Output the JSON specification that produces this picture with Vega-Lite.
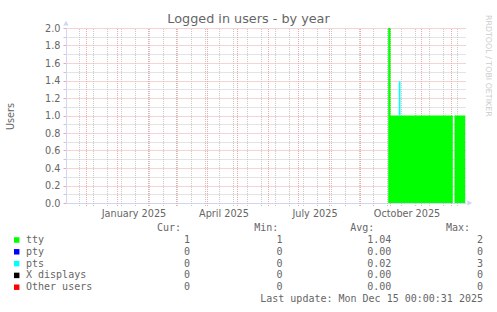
{
  "$schema": "https://vega.github.io/schema/vega-lite/v6.json",
  "width": 400,
  "height": 175,
  "autosize": {"type": "none"},
  "padding": {"left": 66, "top": 28, "right": 31, "bottom": 109},
  "background": "#ffffff",
  "config": {
    "view": {"stroke": null},
    "font": "DejaVu Sans",
    "axis": {"labelFont": "DejaVu Sans", "titleFont": "DejaVu Sans"}
  },
  "title": {
    "text": "Logged in users - by year",
    "font": "DejaVu Sans",
    "fontSize": 12.8,
    "fontWeight": "normal",
    "color": "#666666",
    "anchor": "middle",
    "frame": "group",
    "dx": -17.5,
    "dy": 11.5,
    "offset": 0
  },
  "datasets": {
    "users": [
      {"t": "2025-09-28T17:00:00", "series": "tty", "users": 2},
      {"t": "2025-09-28T17:00:00", "series": "pts", "users": 0},
      {"t": "2025-10-01T00:00:00", "series": "tty", "users": 1},
      {"t": "2025-10-01T00:00:00", "series": "pts", "users": 0},
      {"t": "2025-10-09T07:00:00", "series": "tty", "users": 1},
      {"t": "2025-10-09T07:00:00", "series": "pts", "users": 0.39},
      {"t": "2025-10-11T00:00:00", "series": "tty", "users": 1},
      {"t": "2025-10-11T00:00:00", "series": "pts", "users": 0},
      {"t": "2025-12-02T07:00:00", "series": "tty", "users": 1},
      {"t": "2025-12-02T07:00:00", "series": "pts", "users": 0},
      {"t": "2025-12-03T00:00:00", "series": "tty", "users": null},
      {"t": "2025-12-03T00:00:00", "series": "pts", "users": null},
      {"t": "2025-12-04T00:00:00", "series": "tty", "users": 1},
      {"t": "2025-12-04T00:00:00", "series": "pts", "users": 0},
      {"t": "2025-12-14T17:00:00", "series": "tty", "users": 1},
      {"t": "2025-12-14T17:00:00", "series": "pts", "users": 0}
    ],
    "monthGrid": [
      {"d": "2024-12-01T00:00:00"}, {"d": "2025-01-01T00:00:00"}, {"d": "2025-02-01T00:00:00"},
      {"d": "2025-03-01T00:00:00"}, {"d": "2025-04-01T00:00:00"}, {"d": "2025-05-01T00:00:00"},
      {"d": "2025-06-01T00:00:00"}, {"d": "2025-07-01T00:00:00"}, {"d": "2025-08-01T00:00:00"},
      {"d": "2025-09-01T00:00:00"}, {"d": "2025-10-01T00:00:00"}, {"d": "2025-11-01T00:00:00"},
      {"d": "2025-12-01T00:00:00"}
    ],
    "weekGrid": [
      {"d": "2024-11-24T00:00:00"}, {"d": "2024-12-08T00:00:00"}, {"d": "2024-12-22T00:00:00"},
      {"d": "2025-01-05T00:00:00"}, {"d": "2025-01-19T00:00:00"}, {"d": "2025-02-02T00:00:00"},
      {"d": "2025-02-16T00:00:00"}, {"d": "2025-03-02T00:00:00"}, {"d": "2025-03-16T00:00:00"},
      {"d": "2025-03-30T00:00:00"}, {"d": "2025-04-13T00:00:00"}, {"d": "2025-04-27T00:00:00"},
      {"d": "2025-05-11T00:00:00"}, {"d": "2025-05-25T00:00:00"}, {"d": "2025-06-08T00:00:00"},
      {"d": "2025-06-22T00:00:00"}, {"d": "2025-07-06T00:00:00"}, {"d": "2025-07-20T00:00:00"},
      {"d": "2025-08-03T00:00:00"}, {"d": "2025-08-17T00:00:00"}, {"d": "2025-08-31T00:00:00"},
      {"d": "2025-09-14T00:00:00"}, {"d": "2025-09-28T00:00:00"}, {"d": "2025-10-12T00:00:00"},
      {"d": "2025-10-26T00:00:00"}, {"d": "2025-11-09T00:00:00"}, {"d": "2025-11-23T00:00:00"},
      {"d": "2025-12-07T00:00:00"}
    ],
    "stats": [
      {"series": "tty", "cur": 1, "min": 1, "avg": 1.04, "max": 2},
      {"series": "pty", "cur": 0, "min": 0, "avg": 0, "max": 0},
      {"series": "pts", "cur": 0, "min": 0, "avg": 0.02, "max": 3},
      {"series": "X displays", "cur": 0, "min": 0, "avg": 0, "max": 0},
      {"series": "Other users", "cur": 0, "min": 0, "avg": 0, "max": 0}
    ]
  },
  "layer": [
    {
      "layer": [
        {
          "data": {"name": "weekGrid"},
          "mark": {"type": "rule", "color": "#c8c8c8", "strokeDash": [1, 1], "strokeWidth": 1},
          "encoding": {
            "x": {"field": "d", "type": "temporal"},
            "y": {"datum": -0.034, "type": "quantitative", "axis": null},
            "y2": {"datum": 2}
          }
        },
        {
          "data": {"name": "monthGrid"},
          "mark": {"type": "rule", "color": "#efa7a7", "strokeDash": [1, 1], "strokeWidth": 1},
          "encoding": {
            "x": {"field": "d", "type": "temporal"},
            "y": {"datum": -0.034, "type": "quantitative", "axis": null},
            "y2": {"datum": 2}
          }
        },
        {
          "data": {"name": "users"},
          "mark": {"type": "area", "interpolate": "step-after", "opacity": 1, "line": false},
          "encoding": {
            "x": {
              "field": "t",
              "type": "temporal",
              "scale": {"domain": [{"year": 2024, "month": 11, "date": 10, "hours": 12}, {"year": 2025, "month": 12, "date": 15, "hours": 12}]},
              "axis": {
                "title": null,
                "tickCount": {"interval": "month", "step": 3},
                "format": "%B %Y",
                "grid": false,
                "ticks": false,
                "tickSize": 0,
                "domainColor": "#cfd6f8",
                "labelOffset": 16,
                "labelOverlap": false,
                "labelBound": false,
                "labelFlush": false,
                "labelFontSize": 9.7,
                "labelColor": "#666666",
                "labelPadding": 5
              }
            },
            "y": {
              "field": "users",
              "type": "quantitative",
              "stack": "zero",
              "scale": {"domain": [0, 2], "nice": false, "zero": true},
              "axis": {
                "title": "Users",
                "values": [0, 0.1, 0.2, 0.3, 0.4, 0.5, 0.6, 0.7, 0.8, 0.9, 1, 1.1, 1.2, 1.3, 1.4, 1.5, 1.6, 1.7, 1.8, 1.9, 2],
                "grid": true,
                "gridColor": {"condition": {"test": "round(datum.value * 10) % 2 === 0", "value": "#efa7a7"}, "value": "#c8c8c8"},
                "gridDash": [1, 1],
                "tickColor": {"condition": {"test": "round(datum.value * 10) % 2 === 0", "value": "#efa7a7"}, "value": "#c8c8c8"},
                "tickSize": 3,
                "domainColor": "#cfd6f8",
                "labelExpr": "round(datum.value * 10) % 2 === 0 ? format(datum.value, '.1f') : ''",
                "labelOverlap": false,
                "labelBound": false,
                "labelFlush": false,
                "labelFontSize": 9.7,
                "labelColor": "#666666",
                "labelPadding": 3,
                "titleFontSize": 9.7,
                "titleFontWeight": "normal",
                "titleColor": "#666666",
                "titleAngle": 270,
                "titleAlign": "center",
                "titleBaseline": "middle",
                "titleX": -55.5,
                "titleY": 88
              }
            },
            "color": {
              "field": "series",
              "type": "nominal",
              "scale": {"domain": ["tty", "pty", "pts", "X displays", "Other users"], "range": ["#00ff00", "#0000ff", "#00ffff", "#000000", "#ff0000"]},
              "legend": null
            },
            "order": {"field": "series", "sort": "descending"}
          }
        },
        {
          "data": {"values": [{}]},
          "mark": {"type": "point", "shape": "triangle-up", "filled": true, "size": 30, "color": "#cfd6f8", "opacity": 1},
          "encoding": {
            "x": {"datum": {"year": 2024, "month": 11, "date": 10, "hours": 12}, "type": "temporal"},
            "y": {
              "datum": 2.055,
              "type": "quantitative",
              "axis": {
                "orient": "right",
                "title": "RRDTOOL / TOBI OETIKER",
                "labels": false,
                "ticks": false,
                "domain": false,
                "grid": false,
                "titleAngle": 90,
                "titleAlign": "left",
                "titleBaseline": "middle",
                "titleX": 21,
                "titleY": -13.5,
                "titleFontSize": 7.9,
                "titleFontWeight": "normal",
                "titleColor": "#cccccc"
              }
            }
          }
        },
        {
          "data": {"values": [{}]},
          "mark": {"type": "point", "shape": "triangle-right", "filled": true, "size": 30, "color": "#cfd6f8", "opacity": 1},
          "encoding": {
            "x": {"datum": {"year": 2025, "month": 12, "date": 19, "hours": 6}, "type": "temporal"},
            "y": {"datum": 0, "type": "quantitative", "axis": null}
          }
        }
      ],
      "resolve": {"axis": {"y": "independent"}}
    },
    {
      "data": {"name": "stats"},
      "layer": [
        {
          "mark": {"type": "point", "shape": "square", "filled": true, "size": 30, "opacity": 1},
          "encoding": {
            "x": {
              "datum": 0,
              "type": "quantitative",
              "scale": {"type": "linear", "domain": [0, 1, 2, 3, 4, 5, 6, 7, 8, 9], "range": [-49.3, -40, 115, 124, 212.3, 216.5, 308.3, 325.3, 404, 417], "zero": false, "nice": false},
              "axis": null
            },
            "y": {
              "field": "series",
              "type": "nominal",
              "scale": {"type": "point", "domain": ["header", "tty", "pty", "pts", "X displays", "Other users", "footer"], "range": [200.2, 271], "padding": 0},
              "axis": null
            },
            "color": {
              "field": "series",
              "type": "nominal",
              "scale": {"domain": ["tty", "pty", "pts", "X displays", "Other users"], "range": ["#00ff00", "#0000ff", "#00ffff", "#000000", "#ff0000"]},
              "legend": null
            }
          }
        },
        {
          "mark": {"type": "text", "align": "left", "baseline": "middle", "font": "DejaVu Sans Mono", "fontSize": 10, "color": "#666666"},
          "encoding": {
            "x": {"datum": 1, "type": "quantitative"},
            "y": {"field": "series", "type": "nominal"},
            "text": {"field": "series"}
          }
        },
        {
          "mark": {"type": "text", "align": "right", "baseline": "middle", "font": "DejaVu Sans Mono", "fontSize": 10, "color": "#666666"},
          "encoding": {
            "x": {"datum": 3, "type": "quantitative"},
            "y": {"field": "series", "type": "nominal"},
            "text": {"field": "cur", "format": "d"}
          }
        },
        {
          "mark": {"type": "text", "align": "right", "baseline": "middle", "font": "DejaVu Sans Mono", "fontSize": 10, "color": "#666666"},
          "encoding": {
            "x": {"datum": 5, "type": "quantitative"},
            "y": {"field": "series", "type": "nominal"},
            "text": {"field": "min", "format": "d"}
          }
        },
        {
          "mark": {"type": "text", "align": "right", "baseline": "middle", "font": "DejaVu Sans Mono", "fontSize": 10, "color": "#666666"},
          "encoding": {
            "x": {"datum": 7, "type": "quantitative"},
            "y": {"field": "series", "type": "nominal"},
            "text": {"field": "avg", "format": ".2f"}
          }
        },
        {
          "mark": {"type": "text", "align": "right", "baseline": "middle", "font": "DejaVu Sans Mono", "fontSize": 10, "color": "#666666"},
          "encoding": {
            "x": {"datum": 9, "type": "quantitative"},
            "y": {"field": "series", "type": "nominal"},
            "text": {"field": "max", "format": "d"}
          }
        },
        {
          "data": {"values": [{"label": "Cur:"}]},
          "mark": {"type": "text", "align": "right", "baseline": "middle", "font": "DejaVu Sans Mono", "fontSize": 10, "color": "#666666"},
          "encoding": {"x": {"datum": 2, "type": "quantitative"}, "y": {"datum": "header", "type": "nominal"}, "text": {"field": "label"}}
        },
        {
          "data": {"values": [{"label": "Min:"}]},
          "mark": {"type": "text", "align": "right", "baseline": "middle", "font": "DejaVu Sans Mono", "fontSize": 10, "color": "#666666"},
          "encoding": {"x": {"datum": 4, "type": "quantitative"}, "y": {"datum": "header", "type": "nominal"}, "text": {"field": "label"}}
        },
        {
          "data": {"values": [{"label": "Avg:"}]},
          "mark": {"type": "text", "align": "right", "baseline": "middle", "font": "DejaVu Sans Mono", "fontSize": 10, "color": "#666666"},
          "encoding": {"x": {"datum": 6, "type": "quantitative"}, "y": {"datum": "header", "type": "nominal"}, "text": {"field": "label"}}
        },
        {
          "data": {"values": [{"label": "Max:"}]},
          "mark": {"type": "text", "align": "right", "baseline": "middle", "font": "DejaVu Sans Mono", "fontSize": 10, "color": "#666666"},
          "encoding": {"x": {"datum": 8, "type": "quantitative"}, "y": {"datum": "header", "type": "nominal"}, "text": {"field": "label"}}
        },
        {
          "data": {"values": [{"label": "Last update: Mon Dec 15 00:00:31 2025"}]},
          "mark": {"type": "text", "align": "right", "baseline": "middle", "font": "DejaVu Sans Mono", "fontSize": 10, "color": "#666666"},
          "encoding": {"x": {"datum": 9, "type": "quantitative"}, "y": {"datum": "footer", "type": "nominal"}, "text": {"field": "label"}}
        }
      ]
    }
  ],
  "resolve": {
    "scale": {"x": "independent", "y": "independent", "color": "independent"},
    "axis": {"x": "independent", "y": "independent"}
  }
}
